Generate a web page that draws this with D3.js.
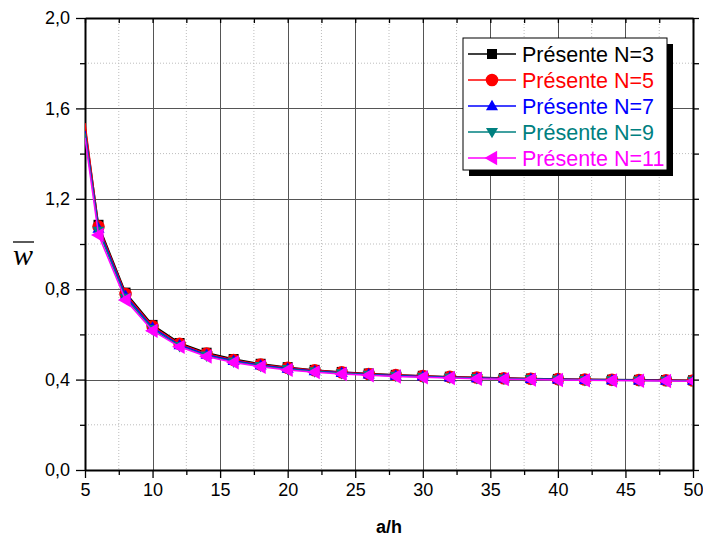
<!DOCTYPE html>
<html>
<head>
<meta charset="utf-8">
<script src="https://cdn.jsdelivr.net/npm/d3@7"></script>
<style>
  body { margin: 0; background: #fff; }
  svg { display: block; }
</style>
</head>
<body>
<svg id="chart" width="703" height="538"></svg>
<script>
// a/h ratios
const ratios = [5, 6, 8, 10, 12, 14, 16, 18, 20, 22, 24, 26, 28, 30, 32, 34, 36, 38, 40, 42, 44, 46, 48, 50];

// Non-dimensional deflection for each number of terms N
const wN3  = [1.520, 1.085, 0.785, 0.642, 0.562, 0.519, 0.491, 0.470, 0.455, 0.443, 0.434, 0.427, 0.421, 0.417, 0.413, 0.410, 0.407, 0.405, 0.403, 0.401, 0.400, 0.399, 0.398, 0.397];
const wN5  = [1.535, 1.077, 0.779, 0.636, 0.558, 0.515, 0.487, 0.467, 0.452, 0.441, 0.432, 0.425, 0.420, 0.416, 0.412, 0.409, 0.406, 0.404, 0.402, 0.400, 0.399, 0.398, 0.397, 0.396];
const wN7  = [1.500, 1.068, 0.771, 0.630, 0.553, 0.510, 0.483, 0.463, 0.449, 0.438, 0.430, 0.423, 0.418, 0.414, 0.410, 0.407, 0.405, 0.403, 0.401, 0.399, 0.398, 0.397, 0.396, 0.395];
const wN9  = [1.490, 1.058, 0.762, 0.623, 0.548, 0.506, 0.479, 0.460, 0.446, 0.436, 0.428, 0.421, 0.416, 0.412, 0.409, 0.406, 0.404, 0.402, 0.400, 0.398, 0.397, 0.396, 0.395, 0.394];
const wN11 = [1.470, 1.040, 0.752, 0.616, 0.545, 0.502, 0.476, 0.457, 0.443, 0.433, 0.425, 0.419, 0.414, 0.410, 0.407, 0.404, 0.402, 0.400, 0.398, 0.397, 0.396, 0.395, 0.394, 0.393];

const seriesNames = ["Présente N=3", "Présente N=5", "Présente N=7", "Présente N=9", "Présente N=11"];
const seriesColors = ["#000000", "#ff0000", "#0000ff", "#008080", "#ff00ff"];
const seriesSymbols = ["square", "circle", "triUp", "triDown", "triLeft"];

const xTicks = [5, 10, 15, 20, 25, 30, 35, 40, 45, 50];
const yTicks = [0, 0.4, 0.8, 1.2, 1.6, 2.0];
const xMinor = [7.5, 12.5, 17.5, 22.5, 27.5, 32.5, 37.5, 42.5, 47.5];
const yMinor = [0.2, 0.6, 1.0, 1.4, 1.8];

const seriesValues = [wN3, wN5, wN7, wN9, wN11];

const svg = d3.select("#chart");
const L = 85, R = 693, T = 18, B = 470;

const x = d3.scaleLinear().domain([5, 50]).range([L, R]);
const y = d3.scaleLinear().domain([0, 2]).range([B, T]);
const fmt = d => d3.format(".1f")(d).replace(".", ",");

// minor grid (dotted)
const grid = svg.append("g");
grid.selectAll(".vm").data(xMinor).enter().append("line")
  .attr("x1", d => x(d)).attr("x2", d => x(d)).attr("y1", T).attr("y2", B)
  .attr("stroke", "#bdbdbd").attr("stroke-width", 1).attr("stroke-dasharray", "1,2");
grid.selectAll(".hm").data(yMinor).enter().append("line")
  .attr("y1", d => y(d)).attr("y2", d => y(d)).attr("x1", L).attr("x2", R)
  .attr("stroke", "#bdbdbd").attr("stroke-width", 1).attr("stroke-dasharray", "1,2");
// major grid (solid)
grid.selectAll(".vM").data(xTicks.slice(1, -1)).enter().append("line")
  .attr("x1", d => Math.round(x(d)) + 0.5).attr("x2", d => Math.round(x(d)) + 0.5).attr("y1", T).attr("y2", B)
  .attr("stroke", "#555").attr("stroke-width", 1);
grid.selectAll(".hM").data(yTicks.slice(1, -1)).enter().append("line")
  .attr("y1", d => Math.round(y(d)) + 0.5).attr("y2", d => Math.round(y(d)) + 0.5).attr("x1", L).attr("x2", R)
  .attr("stroke", "#555").attr("stroke-width", 1);

// axes
const axisStyle = g => {
  g.attr("font-size", null).attr("font-family", null);
  g.selectAll("path").attr("stroke", "#000").attr("stroke-width", 2);
  g.selectAll("line").attr("stroke", "#000").attr("stroke-width", 1.3);
  g.selectAll("text").style("font-family", "'Liberation Sans', Arial, sans-serif").style("font-size", "18px").attr("fill", "#000");
};
const bottomAxis = svg.append("g").attr("transform", `translate(0,${B})`)
  .call(d3.axisBottom(x).tickValues(xTicks).tickSizeInner(8).tickSizeOuter(0).tickPadding(5).tickFormat(d3.format("d")));
axisStyle(bottomAxis);
svg.append("g").attr("transform", `translate(0,${B})`)
  .call(d3.axisBottom(x).tickValues(xMinor).tickSize(5).tickFormat(""))
  .call(g => { g.select("path").remove(); g.selectAll("line").attr("stroke", "#000").attr("stroke-width", 1.3); });

const leftAxis = svg.append("g").attr("transform", `translate(${L},0)`)
  .call(d3.axisLeft(y).tickValues(yTicks).tickSizeInner(9).tickSizeOuter(0).tickPadding(6).tickFormat(fmt));
axisStyle(leftAxis);
svg.append("g").attr("transform", `translate(${L},0)`)
  .call(d3.axisLeft(y).tickValues(yMinor).tickSize(5).tickFormat(""))
  .call(g => { g.select("path").remove(); g.selectAll("line").attr("stroke", "#000").attr("stroke-width", 1.3); });

const topAxis = svg.append("g").attr("transform", `translate(0,${T})`)
  .call(d3.axisTop(x).tickValues(xTicks.concat(xMinor)).tickSizeInner(-5).tickSizeOuter(0).tickFormat(""));
axisStyle(topAxis);
const rightAxis = svg.append("g").attr("transform", `translate(${R},0)`)
  .call(d3.axisRight(y).tickValues(yTicks.concat(yMinor)).tickSizeInner(6).tickSizeOuter(0).tickFormat(""));
axisStyle(rightAxis);

// axis titles
svg.append("text").attr("x", (L + R) / 2).attr("y", 533).attr("text-anchor", "middle")
  .attr("font-family", "Liberation Sans, Arial, sans-serif").attr("font-weight", "bold").attr("font-size", 18)
  .text("a/h");
svg.append("text").attr("x", 23).attr("y", 265).attr("text-anchor", "middle")
  .attr("font-family", "Liberation Serif, Times New Roman, serif").attr("font-style", "italic").attr("font-size", 30)
  .text("w");
svg.append("line").attr("x1", 13).attr("x2", 34).attr("y1", 242).attr("y2", 242)
  .attr("stroke", "#000").attr("stroke-width", 1.3);

// marker shapes
function symbolPath(kind, s) {
  switch (kind) {
    case "square": return `M${-s},${-s}H${s}V${s}H${-s}Z`;
    case "circle": return d3.symbol(d3.symbolCircle, Math.PI * s * s * 1.3)();
    case "triUp": return `M0,${-s * 1.15}L${s * 1.1},${s * 0.75}L${-s * 1.1},${s * 0.75}Z`;
    case "triDown": return `M0,${s * 1.15}L${s * 1.1},${-s * 0.75}L${-s * 1.1},${-s * 0.75}Z`;
    case "triLeft": return `M${-s * 1.25},0L${s * 0.85},${-s * 1.2}L${s * 0.85},${s * 1.2}Z`;
  }
}

// clip to the plotting area
svg.append("clipPath").attr("id", "plotClip").append("rect")
  .attr("x", L).attr("y", T).attr("width", R - L).attr("height", B - T);
const plot = svg.append("g").attr("clip-path", "url(#plotClip)");

const line = d3.line().x(d => x(d[0])).y(d => y(d[1]));
const sizes = [5, 5.5, 5.5, 5.5, 6];

seriesValues.forEach((vals, i) => {
  const pts = ratios.map((r, j) => [r, vals[j]]);
  const g = plot.append("g");
  g.append("path").datum(pts).attr("d", line)
    .attr("fill", "none").attr("stroke", seriesColors[i]).attr("stroke-width", 1.5);
  g.selectAll("path.m").data(pts.filter(p => p[0] > 5)).enter().append("path")
    .attr("class", "m")
    .attr("transform", p => `translate(${x(p[0])},${y(p[1])})`)
    .attr("d", symbolPath(seriesSymbols[i], sizes[i]))
    .attr("fill", seriesColors[i]);
});

// legend
const lg = svg.append("g");
const lx = 463, ly = 38, lw = 204, lh = 132;
lg.append("rect").attr("x", lx + 6).attr("y", ly + 6).attr("width", lw).attr("height", lh).attr("fill", "#000");
lg.append("rect").attr("x", lx).attr("y", ly).attr("width", lw).attr("height", lh)
  .attr("fill", "#fff").attr("stroke", "#000").attr("stroke-width", 1);
seriesNames.forEach((name, i) => {
  const yy = 54 + i * 26;
  lg.append("line").attr("x1", 468).attr("x2", 516).attr("y1", yy).attr("y2", yy)
    .attr("stroke", seriesColors[i]).attr("stroke-width", 1.3);
  lg.append("path").attr("transform", `translate(492,${yy})`)
    .attr("d", symbolPath(seriesSymbols[i], sizes[i])).attr("fill", seriesColors[i]);
  lg.append("text").attr("x", 522).attr("y", yy + 7.5)
    .attr("font-family", "Liberation Sans, Arial, sans-serif").attr("font-size", 21.5)
    .attr("fill", seriesColors[i]).text(name);
});
</script>
</body>
</html>
